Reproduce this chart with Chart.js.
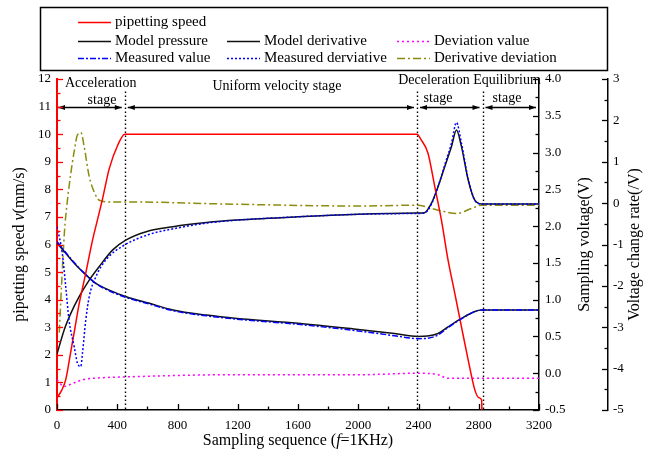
<!DOCTYPE html>
<html><head><meta charset="utf-8">
<script src="https://cdn.jsdelivr.net/npm/chart.js@4.4.0/dist/chart.umd.min.js"></script>
<style>html,body{margin:0;padding:0;background:#fff;}#wrap{width:646px;height:460px;}</style>
</head><body><div id="wrap"><canvas id="c" width="646" height="460"></canvas></div>
<script>
// ---------------- data ----------------
const seriesNames = ["pipetting speed","Model pressure","Model derivative","Deviation value","Measured value","Measured derviative","Derivative deviation"];

// pipetting speed (mm/s, left axis)
const speedX = [0,30,58,91,120,147,191,236,269,300,347,403,450,2390,2418,2463,2508,2552,2596,2641,2685,2730,2774,2800,2819,2821];
const speedY = [0.45,0.7,1.1,2.1,3.0,3.85,4.96,6.16,6.9,7.6,8.75,9.6,10,10,9.79,9.31,8.1,6.89,5.44,4.23,3.02,1.81,0.73,0.45,0.36,0];

// model pressure (V, sampling voltage axis)
const pressureX = [0,58,125,191,258,347,459,614,770,993,1194,1600,2000,2240,2396,2460,2530,2596,2685,2774,2819,3200];
const pressureY = [1.77,1.63,1.47,1.34,1.22,1.13,1.04,0.95,0.86,0.79,0.745,0.68,0.595,0.54,0.50,0.505,0.54,0.63,0.745,0.84,0.86,0.86];

// measured value (V)
const measValX = [0,58,125,191,258,347,459,614,770,993,1194,1600,2000,2240,2396,2460,2530,2596,2685,2774,2819,3200];
const measValY = [1.79,1.64,1.48,1.34,1.22,1.12,1.03,0.94,0.85,0.78,0.735,0.665,0.575,0.51,0.47,0.475,0.52,0.62,0.74,0.84,0.86,0.86];

// model derivative (/V, voltage change rate axis)
const derivX = [0,47,91,147,214,281,370,459,592,770,993,1194,1600,2000,2390,2440,2485,2530,2574,2619,2652,2685,2730,2774,2819,3200];
const derivY = [-3.65,-3.07,-2.67,-2.26,-1.86,-1.53,-1.13,-0.89,-0.69,-0.57,-0.47,-0.41,-0.33,-0.27,-0.24,-0.23,-0.01,0.40,0.88,1.37,1.77,1.37,0.56,0.07,-0.02,-0.02];

// measured derivative (/V)
const measDerX = [0,35,58,80,114,136,158,169,191,214,258,325,440,600,800,1000,1200,1600,2000,2390,2440,2485,2530,2574,2619,2652,2685,2730,2774,2819,3200];
const measDerY = [-0.57,-1.21,-2.02,-2.83,-3.47,-3.87,-3.95,-3.63,-2.83,-2.26,-1.78,-1.37,-1.03,-0.77,-0.6,-0.48,-0.41,-0.33,-0.27,-0.25,-0.24,-0.03,0.40,0.92,1.45,1.95,1.45,0.58,0.07,-0.02,-0.02];

// deviation value (V)
const devValX = [0,47,102,169,236,459,1194,2017,2396,2530,2596,3200];
const devValY = [-0.09,-0.18,-0.14,-0.09,-0.07,-0.05,-0.02,-0.02,0.0,-0.02,-0.07,-0.07];

// derivative deviation (/V)
const derDevX = [15,30,50,65,80,100,115,136,160,180,214,247,281,350,459,1100,2000,2390,2530,2652,2752,2820,3200];
const derDevY = [-3.13,-2.0,-0.67,-0.07,0.4,0.93,1.27,1.65,1.7,1.37,0.64,0.27,0.07,0.03,0.03,-0.02,-0.07,-0.05,-0.17,-0.25,-0.13,-0.05,-0.05];

// stages
const stageBounds = [0,450,2390,2825,3200];

// axis ranges / ticks
const xRange = [0,3200], xStep = 400;
const yRange = [0,12], yStep = 1;
const y1Range = [-0.5,4.0], y1Step = 0.5;
const y2Range = [-5,3], y2Step = 1;

// ---------------- helpers ----------------
const pts = (xs, ys) => xs.map((v,i)=>({x:v, y:ys[i]}));
const SERIF = '"Liberation Serif", "Times New Roman", serif';

function mkDs(i, xs, ys, axis, color, dash, order){
  return {label: seriesNames[i], data: pts(xs,ys), yAxisID: axis, borderColor: color,
    borderDash: dash, borderWidth: 1.5, pointRadius: 0, fill:false,
    cubicInterpolationMode:'monotone', order: order};
}

const RED='#ff0000', BLK='#111111', BLUE='#0000ff', MAG='#ff00ff', OLV='#8c8c10';

const datasets = [
  mkDs(0, speedX, speedY, 'y', RED, [], 1),
  mkDs(1, pressureX, pressureY, 'y1', BLK, [], 2),
  mkDs(2, derivX, derivY, 'y2', BLK, [], 2),
  mkDs(3, devValX, devValY, 'y1', MAG, [2,3], 3),
  mkDs(4, measValX, measValY, 'y1', BLUE, [6,2,2,2], 0),
  mkDs(5, measDerX, measDerY, 'y2', BLUE, [2,2], 0),
  mkDs(6, derDevX, derDevY, 'y2', OLV, [8,3,2,3], 3)
];

// ---------------- plugins ----------------
function drawInTicks(ctx, scale, minor, major, dirX, dirY, from, color, isX){
  ctx.strokeStyle = color; ctx.lineWidth = 1.3; ctx.setLineDash([]);
  const lo = scale.min, hi = scale.max, step = minor;
  const n = Math.round((hi-lo)/step);
  for (let k=0;k<=n;k++){
    const v = lo + k*step;
    const isMajor = Math.abs((v - lo)/major - Math.round((v-lo)/major)) < 1e-6;
    const len = isMajor ? 6 : 3.5;
    const p = Math.round(scale.getPixelForValue(v)) + 0.5;
    ctx.beginPath();
    if (isX){ ctx.moveTo(p, from); ctx.lineTo(p, from - len); }
    else { ctx.moveTo(from, p); ctx.lineTo(from + dirX*len, p); }
    ctx.stroke();
  }
}

function drawRotText(ctx, parts, cx, cy, size){
  ctx.save();
  ctx.translate(cx, cy); ctx.rotate(-Math.PI/2);
  let total = 0;
  parts.forEach(p=>{ ctx.font = (p.it?'italic ':'') + size + 'px ' + SERIF; total += ctx.measureText(p.t).width; });
  let x = -total/2;
  ctx.textBaseline='middle'; ctx.textAlign='left'; ctx.fillStyle='#000';
  parts.forEach(p=>{ ctx.font = (p.it?'italic ':'') + size + 'px ' + SERIF; ctx.fillText(p.t, x, 0); x += ctx.measureText(p.t).width; });
  ctx.restore();
}
function drawText(ctx, parts, cx, cy, size){
  let total = 0;
  parts.forEach(p=>{ ctx.font = (p.it?'italic ':'') + size + 'px ' + SERIF; total += ctx.measureText(p.t).width; });
  let x = cx - total/2;
  ctx.textBaseline='middle'; ctx.textAlign='left'; ctx.fillStyle='#000';
  parts.forEach(p=>{ ctx.font = (p.it?'italic ':'') + size + 'px ' + SERIF; ctx.fillText(p.t, x, cy); x += ctx.measureText(p.t).width; });
}

function arrowHead(ctx, x, y, dir){
  ctx.beginPath();
  ctx.moveTo(x, y);
  ctx.lineTo(x - dir*7, y - 2.6);
  ctx.lineTo(x - dir*7, y + 2.6);
  ctx.closePath(); ctx.fill();
}

const stagePlugin = {
  id:'stages',
  beforeDatasetsDraw(chart){
    const {ctx, scales:{x, y}} = chart;
    ctx.save();
    ctx.strokeStyle='#000'; ctx.lineWidth=1.4; ctx.setLineDash([1.5,2.5]);
    for (let i=1;i<stageBounds.length-1;i++){
      const px = Math.round(x.getPixelForValue(stageBounds[i]))+0.5;
      ctx.beginPath(); ctx.moveTo(px, y.getPixelForValue(11.55)); ctx.lineTo(px, y.bottom); ctx.stroke();
    }
    ctx.setLineDash([]);
    const ay = Math.round(y.getPixelForValue(11))+0.5;
    ctx.fillStyle='#000'; ctx.lineWidth=1.3;
    for (let i=0;i<stageBounds.length-1;i++){
      const x1 = x.getPixelForValue(stageBounds[i]) + (i===0?1:3);
      const x2 = x.getPixelForValue(stageBounds[i+1]) - 3;
      ctx.beginPath(); ctx.moveTo(x1, ay); ctx.lineTo(x2, ay); ctx.stroke();
      arrowHead(ctx, x1, ay, -1);
      arrowHead(ctx, x2, ay, 1);
    }
    ctx.restore();
  },
  afterDraw(chart){
    const {ctx} = chart;
    ctx.save();
    ctx.fillStyle='#000'; ctx.textBaseline='middle';
    ctx.font = '14px ' + SERIF;
    ctx.textAlign='left'; ctx.fillText('Acceleration', 65, 83);
    ctx.textAlign='center'; ctx.fillText('stage', 102, 100);
    ctx.fillText('Uniform velocity stage', 277, 86);
    ctx.fillText('Deceleration', 434, 80);
    ctx.fillText('stage', 438, 98);
    ctx.fillText('Equilibrium', 507, 80);
    ctx.fillText('stage', 507, 98);
    ctx.restore();
  }
};

const axisPlugin = {
  id:'axesDeco',
  afterDraw(chart){
    const {ctx, scales:{x, y, y1, y2}} = chart;
    ctx.save();
    drawInTicks(ctx, x, xStep/2, xStep, 0, -1, x.top, '#000', true);
    drawInTicks(ctx, y, yStep/2, yStep, 1, 0, y.right, RED, false);
    drawInTicks(ctx, y1, y1Step/2, y1Step, -1, 0, y1.left, '#000', false);
    drawInTicks(ctx, y2, y2Step/2, y2Step, -1, 0, y2.left, '#000', false);
    const midY = (y.top + y.bottom)/2;
    drawRotText(ctx, [{t:'pipetting speed '},{t:'v',it:true},{t:'(mm/s)'}], 20, midY, 16);
    drawRotText(ctx, [{t:'Sampling voltage(V)'}], 585, midY, 16);
    drawRotText(ctx, [{t:'Voltage change rate(/V)'}], 635, midY, 16);
    drawText(ctx, [{t:'Sampling sequence ('},{t:'f',it:true},{t:'=1KHz)'}], 298, 441, 16);
    ctx.restore();
  }
};

const legendRows = [[0],[1,2,3],[4,5,6]];
const legendPlugin = {
  id:'customLegend',
  afterDraw(chart){
    const ctx = chart.ctx; ctx.save();
    ctx.strokeStyle='#000'; ctx.lineWidth=1.5; ctx.setLineDash([]);
    ctx.strokeRect(40.5, 7.5, 567, 63);
    const rowY=[22,41,58], colX=[78,227,397];
    legendRows.forEach((row,ri)=>row.forEach((di,ci)=>{
      const ds = chart.data.datasets[di];
      const lx = colX[ci], ly = rowY[ri]+0.5;
      ctx.strokeStyle = ds.borderColor; ctx.lineWidth = 1.5; ctx.setLineDash(ds.borderDash||[]);
      ctx.beginPath(); ctx.moveTo(lx, ly); ctx.lineTo(lx+33, ly); ctx.stroke();
      ctx.setLineDash([]);
      ctx.fillStyle='#000'; ctx.font='15px ' + SERIF; ctx.textBaseline='middle'; ctx.textAlign='left';
      ctx.fillText(ds.label, lx+37, rowY[ri]);
    }));
    ctx.restore();
  }
};

// ---------------- chart ----------------
Chart.defaults.color = '#000';
Chart.defaults.font.family = SERIF;
const tickFont = {family: SERIF, size: 13};
const plain = v => String(Math.round(v*100)/100);

new Chart(document.getElementById('c'), {
  type:'line',
  data:{ datasets },
  plugins:[stagePlugin, axisPlugin, legendPlugin],
  options:{
    responsive:false, animation:false, devicePixelRatio:1,
    layout:{padding:{top:79, left:0, right:0, bottom:0}},
    plugins:{legend:{display:false}, tooltip:{enabled:false}},
    scales:{
      x:{type:'linear', position:'bottom', min:xRange[0], max:xRange[1],
        grid:{display:false, drawTicks:false}, border:{display:true, color:'#000', width:1.5},
        ticks:{stepSize:xStep, padding:8, font:tickFont, maxRotation:0, callback:plain},
        afterFit(s){ s.height = 50; }},
      y:{type:'linear', position:'left', min:yRange[0], max:yRange[1],
        grid:{display:false, drawTicks:false}, border:{display:true, color:RED, width:2},
        ticks:{stepSize:yStep, padding:6, font:tickFont, callback:plain},
        afterFit(s){ s.width = 57; }},
      y1:{type:'linear', position:'right', weight:0, min:y1Range[0], max:y1Range[1],
        grid:{display:false, drawTicks:false}, border:{display:true, color:'#000', width:1.5},
        ticks:{stepSize:y1Step, padding:6, font:tickFont, callback:v=>v.toFixed(1)},
        afterFit(s){ s.width = 69; }},
      y2:{type:'linear', position:'right', weight:1, min:y2Range[0], max:y2Range[1],
        grid:{display:false, drawTicks:false}, border:{display:true, color:'#000', width:1.5},
        ticks:{stepSize:y2Step, padding:5, font:tickFont, callback:plain},
        afterFit(s){ s.width = 38; }}
    }
  }
});
</script>
</body></html>
